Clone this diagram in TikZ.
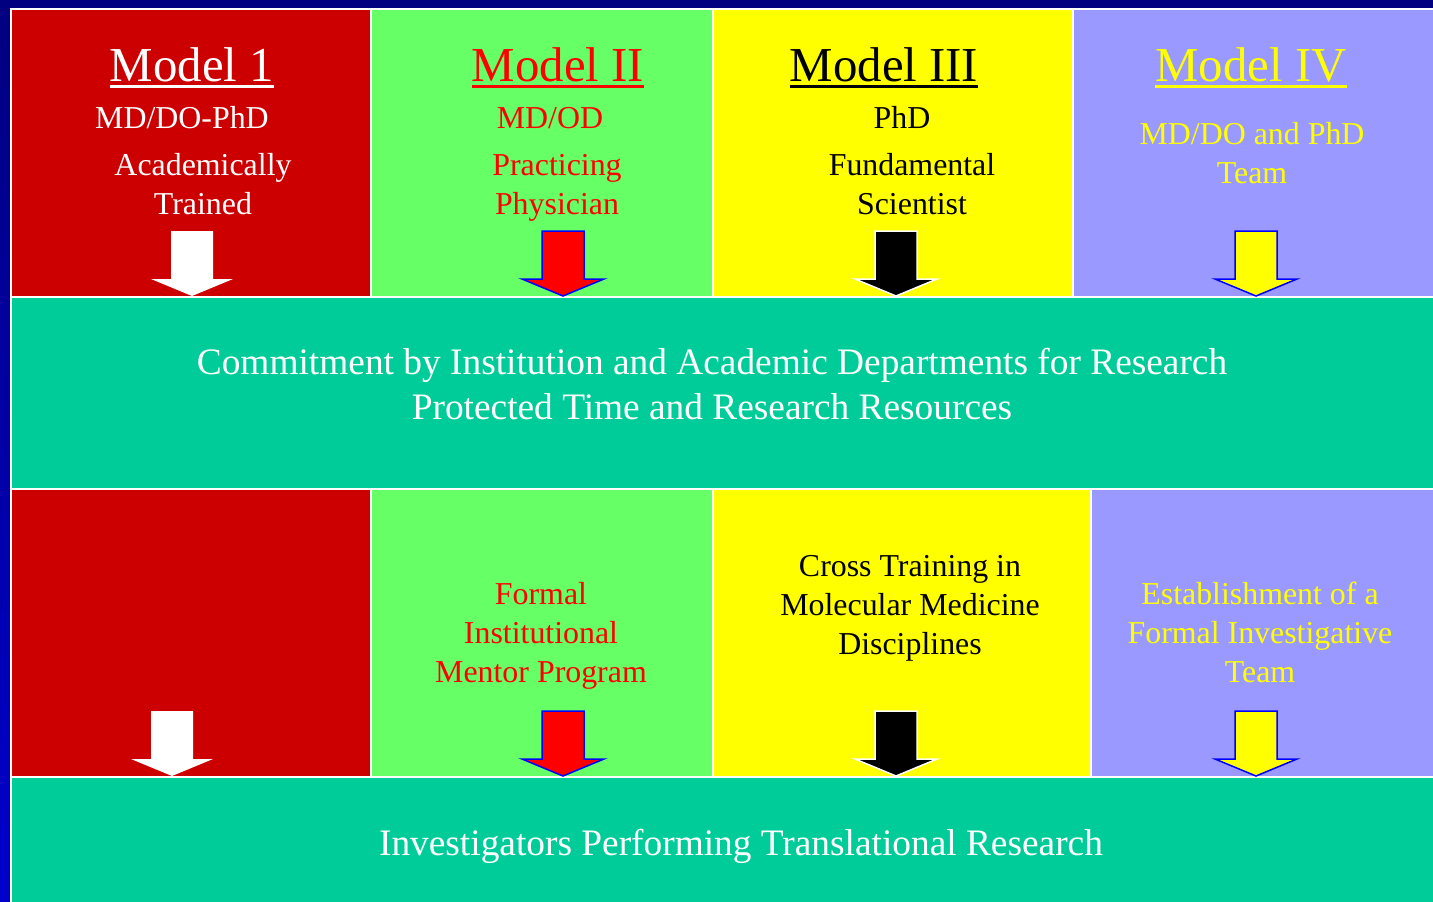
\documentclass[tikz,border=0pt]{standalone}
\usepackage{fontspec}
\setmainfont{Liberation Serif}
\usepackage{xcolor}
\usepackage{tikz}

\definecolor{bgtop}{HTML}{000080}
\definecolor{bgbot}{HTML}{0000CC}
\definecolor{mred}{HTML}{CC0000}
\definecolor{mgreen}{HTML}{66FF66}
\definecolor{myellow}{HTML}{FFFF00}
\definecolor{mviolet}{HTML}{9999FF}
\definecolor{mteal}{HTML}{00CC99}
\definecolor{tred}{HTML}{FF0000}
\definecolor{aline}{HTML}{0000FF}

\tikzset{
  cell/.style={draw=white,line width=2bp,anchor=north west,inner sep=0pt},
  title/.style={font=\fontsize{49}{55}\selectfont,anchor=base,inner sep=0pt},
  txt/.style={font=\fontsize{32}{39}\selectfont,anchor=base,align=center,inner sep=0pt},
  bandtxt/.style={txt,text=white,font=\fontsize{37.5}{45}\selectfont},
  blockarrow/.pic={\path[pic actions] (-21bp,0bp) -- (21bp,0bp) -- (21bp,-48bp) -- (41bp,-48bp)
    -- (0bp,-65bp) -- (-41bp,-48bp) -- (-21bp,-48bp) -- cycle;}
}

\begin{document}
\begin{tikzpicture}
    \useasboundingbox (0bp,0bp) rectangle (1433bp,-902bp);
    \clip (0bp,0bp) rectangle (1433bp,-902bp);
    \shade[top color=bgtop,bottom color=bgbot] (0bp,0bp) rectangle (1433bp,-902bp);

    % upper row of models
    \node (m1) at (10bp,-8bp)[cell,fill=mred,minimum width=360bp,minimum height=288bp] {};
    \node (m2) at (370bp,-8bp)[cell,fill=mgreen,minimum width=342bp,minimum height=288bp] {};
    \node (m3) at (712bp,-8bp)[cell,fill=myellow,minimum width=360bp,minimum height=288bp] {};
    \node (m4) at (1072bp,-8bp)[cell,fill=mviolet,minimum width=370bp,minimum height=288bp] {};
    \node (commit) at (10bp,-296bp)[cell,fill=mteal,minimum width=1432bp,minimum height=192bp] {};

    % lower row
    \node (p1) at (10bp,-488bp)[cell,fill=mred,minimum width=360bp,minimum height=288bp] {};
    \node (p2) at (370bp,-488bp)[cell,fill=mgreen,minimum width=342bp,minimum height=288bp] {};
    \node (p3) at (712bp,-488bp)[cell,fill=myellow,minimum width=378bp,minimum height=288bp] {};
    \node (p4) at (1090bp,-488bp)[cell,fill=mviolet,minimum width=352bp,minimum height=288bp] {};
    \node (invest) at (10bp,-776bp)[cell,fill=mteal,minimum width=1432bp,minimum height=140bp] {};

    % titles
    \node (t1) at (192bp,-81bp)[title,text=white] {Model 1};
    \node (t2) at (558bp,-81bp)[title,text=tred] {Model II};
    \node (t3) at (884bp,-81bp)[title,text=black] {Model III};
    \node (t4) at (1251bp,-81bp)[title,text=myellow] {Model IV};
    \draw [white,line width=3bp] ([yshift=-5bp]t1.base west) -- ([yshift=-5bp]t1.base east);
    \draw [tred,line width=3bp] ([yshift=-5bp]t2.base west) -- ([yshift=-5bp]t2.base east);
    \draw [black,line width=3bp] ([yshift=-5bp]t3.base west) -- ([yshift=-5bp]t3.base east);
    \draw [myellow,line width=3bp] ([yshift=-5bp]t4.base west) -- ([yshift=-5bp]t4.base east);

    % base of a text with several lines is its last line
    \node (d1) at (182bp,-128bp)[txt,text=white] {MD/DO-PhD};
    \node (d2) at (550bp,-128bp)[txt,text=tred] {MD/OD};
    \node (d3) at (902bp,-128bp)[txt,text=black] {PhD};
    \node (d4) at (1252bp,-183bp)[txt,text=myellow] {MD/DO and PhD\\Team};
    \node (r1) at (203bp,-214bp)[txt,text=white] {Academically\\Trained};
    \node (r2) at (557bp,-214bp)[txt,text=tred] {Practicing\\Physician};
    \node (r3) at (912bp,-214bp)[txt,text=black] {Fundamental\\Scientist};

    \node (c1) at (712bp,-419bp)[bandtxt]
        {Commitment by Institution and Academic Departments for Research\\Protected Time and Research Resources};

    \node (s2) at (541bp,-682bp)[txt,text=tred] {Formal\\Institutional\\Mentor Program};
    \node (s3) at (910bp,-654bp)[txt,text=black] {Cross Training in\\Molecular Medicine\\Disciplines};
    \node (s4) at (1260bp,-682bp)[txt,text=myellow] {Establishment of a\\Formal Investigative\\Team};

    \node (c2) at (741bp,-855bp)[bandtxt] {Investigators Performing Translational Research};

    % arrows into the bands
    \pic [fill=white] at (192bp,-231bp) {blockarrow};
    \pic [fill=tred,draw=aline,line width=1.5bp] at (563bp,-231bp) {blockarrow};
    \pic [fill=black,draw=white,line width=1.5bp] at (896bp,-231bp) {blockarrow};
    \pic [fill=myellow,draw=aline,line width=1.5bp] at (1256bp,-231bp) {blockarrow};
    \pic [fill=white] at (172bp,-711bp) {blockarrow};
    \pic [fill=tred,draw=aline,line width=1.5bp] at (563bp,-711bp) {blockarrow};
    \pic [fill=black,draw=white,line width=1.5bp] at (896bp,-711bp) {blockarrow};
    \pic [fill=myellow,draw=aline,line width=1.5bp] at (1256bp,-711bp) {blockarrow};
\end{tikzpicture}
\end{document}
